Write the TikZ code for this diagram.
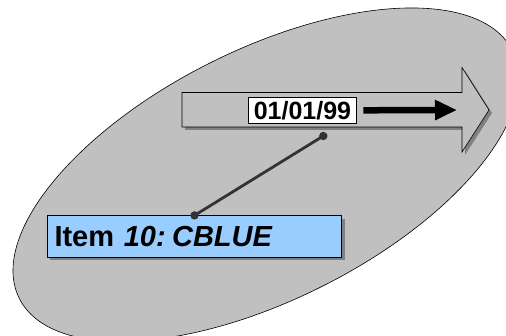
\documentclass[tikz,border=0pt]{standalone}
\usepackage{fontspec}
\setmainfont{Liberation Sans}
\usetikzlibrary{arrows.meta}
\definecolor{fieldgray}{HTML}{C0C0C0}
\definecolor{shadowgray}{HTML}{808080}
\definecolor{itemblue}{HTML}{99CCFF}
\definecolor{linkgray}{HTML}{333333}
\tikzset{
  outline/.style={draw=black, line width=0.6pt},
  dropshadow/.style={fill=shadowgray, draw=none},
  datebox/.style={outline, fill=white, inner sep=0pt, minimum width=108pt, minimum height=26pt,
    font=\fontsize{25}{28}\selectfont\bfseries},
  itembox/.style={outline, fill=itemblue, inner sep=0pt, minimum width=294pt, minimum height=41.6pt,
    font=\fontsize{29}{32}\selectfont\bfseries, text width=280pt, align=left},
  link/.style={draw=linkgray, line width=2.8pt},
  pin/.style={fill=linkgray},
}
\begin{document}
\begin{tikzpicture}[x=1pt,y=1pt]
  \useasboundingbox (0,0) rectangle (506,335);
  \clip (0,0) rectangle (506,335);
  % tilted field
  \draw[outline, fill=fieldgray] (266,160.3) ellipse[x radius=276, y radius=125, rotate=26.65];
  % timeline arrow with drop shadow
  \fill[dropshadow, shift={(3,-3)}] (182,242.5) -- (462,242.5) -- (462,267.5) -- (489,225)
    -- (462,183) -- (462,208) -- (182,208) -- cycle;
  \draw[outline, fill=fieldgray] (182,242.5) -- (462,242.5) -- (462,267.5) -- (489,225)
    -- (462,183) -- (462,208) -- (182,208) -- cycle;
  % date label and direction arrow
  \node[datebox] (date) at (302.5,224.7) {01/01/99};
  \coordinate (dirend) at (457,225);
  \draw[line width=6.5pt, -{Triangle[length=22pt, width=19pt]}] (date.east) ++(6.5,0) coordinate (dirstart) -- (dirend);
  % item box with drop shadow
  \fill[dropshadow] (50.3,74.7) rectangle (344.7,116.3);
  \node[itembox] (item) at (194.5,98.5) {Item \textit{10:\hspace{0.22em}CBLUE}};
  % link between the item and the timeline
  \coordinate (mark) at (323.3,199);
  \draw[link] (item.north) -- (mark);
  \fill[pin] (item.north) circle (4.2);
  \fill[pin] (mark) circle (4.2);
\end{tikzpicture}
\end{document}
